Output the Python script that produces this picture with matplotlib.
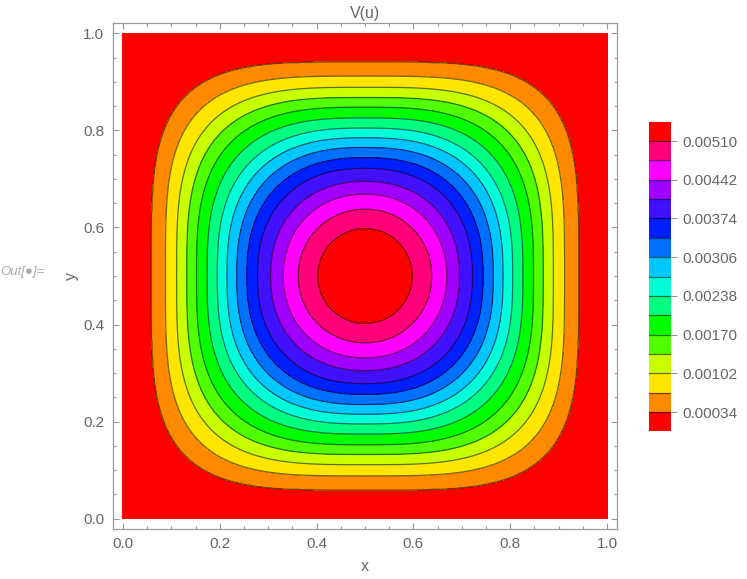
import matplotlib.pyplot as plt
import numpy as np

plt.rcParams['font.family'] = ['Liberation Sans', 'DejaVu Sans']

# contour levels of V(u) (band boundaries); colorbar labels every second one
levels = [0.00034, 0.00068, 0.00102, 0.00136, 0.00170, 0.00204, 0.00238, 0.00272,
          0.00306, 0.00340, 0.00374, 0.00408, 0.00442, 0.00476, 0.00510]
tick_vals = [0.00034, 0.00102, 0.00170, 0.00238, 0.00306, 0.00374, 0.00442, 0.00510]

# half width of each contour along the midlines x=0.5 / y=0.5
mid_r = [0.441, 0.412, 0.389, 0.368, 0.348, 0.326, 0.305, 0.285,
         0.265, 0.244, 0.222, 0.195, 0.169, 0.138, 0.098]
# where each contour crosses the diagonals, as |x-0.5| = |y-0.5|
diag_r = [0.3708, 0.3416, 0.3172, 0.2963, 0.2762, 0.2556, 0.2359, 0.2183,
          0.2008, 0.1828, 0.1642, 0.1423, 0.1215, 0.0981, 0.0693]

band_colors = ['#ff0000', '#ff8a00', '#ffe600', '#c8ff00', '#50ff00', '#00ff00',
               '#00ff80', '#00ffd8', '#00c8ff', '#0070ff', '#0020ff', '#4010ff',
               '#a000ff', '#ff00ff', '#ff0078', '#ff0000']

# rebuild a field whose contours pass through the read positions
n = 601
xs = np.linspace(0, 1, n)
X, Y = np.meshgrid(xs, xs)
dx = np.abs(X - 0.5)
dy = np.abs(Y - 0.5)
a = np.array(mid_r)
p = np.log(2) / np.log(a / np.array(diag_r))
h = np.array([(dx**pk + dy**pk)**(1 / pk) / ak - 1 for ak, pk in zip(a, p)])
lv = np.array(levels)

cnt = (h < 0).sum(axis=0)
k = np.clip(cnt - 1, 0, len(lv) - 2)
hk = np.take_along_axis(h, k[None], 0)[0]
hk1 = np.take_along_axis(h, (k + 1)[None], 0)[0]
with np.errstate(divide='ignore', invalid='ignore'):
    Z = lv[k] + (lv[k + 1] - lv[k]) * (-hk) / (hk1 - hk)
Z = np.where(cnt == 0, lv[0] * np.clip(1 - 3 * h[0], 0.05, 1), Z)
Z = np.where(cnt == len(lv), lv[-1] + 0.0003 * np.clip(-h[-1], 0, 1), Z)

bounds = [0.0] + levels + [levels[-1] + 0.00034]

fig = plt.figure(figsize=(7.47, 5.79), dpi=100)
ax = fig.add_axes([112.7 / 747, 1 - 528.7 / 579, 504.6 / 747, 505.4 / 579])
cf = ax.contourf(X, Y, Z, levels=bounds, colors=band_colors)
cs = ax.contour(X, Y, Z, levels=levels, colors='k', linewidths=0.9, alpha=0.55)

gray = '#666666'
ax.set_xlim(-0.021, 1.021)
ax.set_ylim(-0.021, 1.021)
ax.set_xticks(np.arange(0, 1.01, 0.2))
ax.set_yticks(np.arange(0, 1.01, 0.2))
ax.set_xticks(np.arange(0, 1.01, 0.05), minor=True)
ax.set_yticks(np.arange(0, 1.01, 0.05), minor=True)
ax.set_xticklabels(['0.0', '0.2', '0.4', '0.6', '0.8', '1.0'])
ax.set_yticklabels(['0.0', '0.2', '0.4', '0.6', '0.8', '1.0'])
ax.tick_params(which='both', direction='in', top=True, right=True,
               color='#999999', labelcolor=gray, labelsize=11, width=0.8)
ax.tick_params(which='major', length=4.5, pad=6)
ax.tick_params(which='minor', length=2.5)
for s in ax.spines.values():
    s.set_color('#999999')
    s.set_linewidth(0.9)

ax.set_title('V(u)', color=gray, fontsize=11.5, pad=4)
ax.set_xlabel('x', color=gray, fontsize=11.5, labelpad=6)
ax.set_ylabel('y', color=gray, fontsize=11.5, labelpad=3)
fig.text(0 / 747, 1 - 272 / 579, 'Out[\u25cf]=', color='#aaaaaa', fontsize=9.5,
         style='italic', va='center', ha='left')

cax = fig.add_axes([649.3 / 747, 1 - 431.4 / 579, 21.7 / 747, 309.7 / 579])
cb = fig.colorbar(cf, cax=cax, ticks=tick_vals)
cb.ax.set_yticklabels(['%.5f' % v for v in tick_vals])
cb.outline.set_visible(False)
for v in levels:
    cax.axhline(v, color='k', lw=0.9, alpha=0.55)
cb.ax.tick_params(length=4, color='#999999', labelcolor=gray, labelsize=11, pad=4)

fig.savefig('out.png', dpi=100)
